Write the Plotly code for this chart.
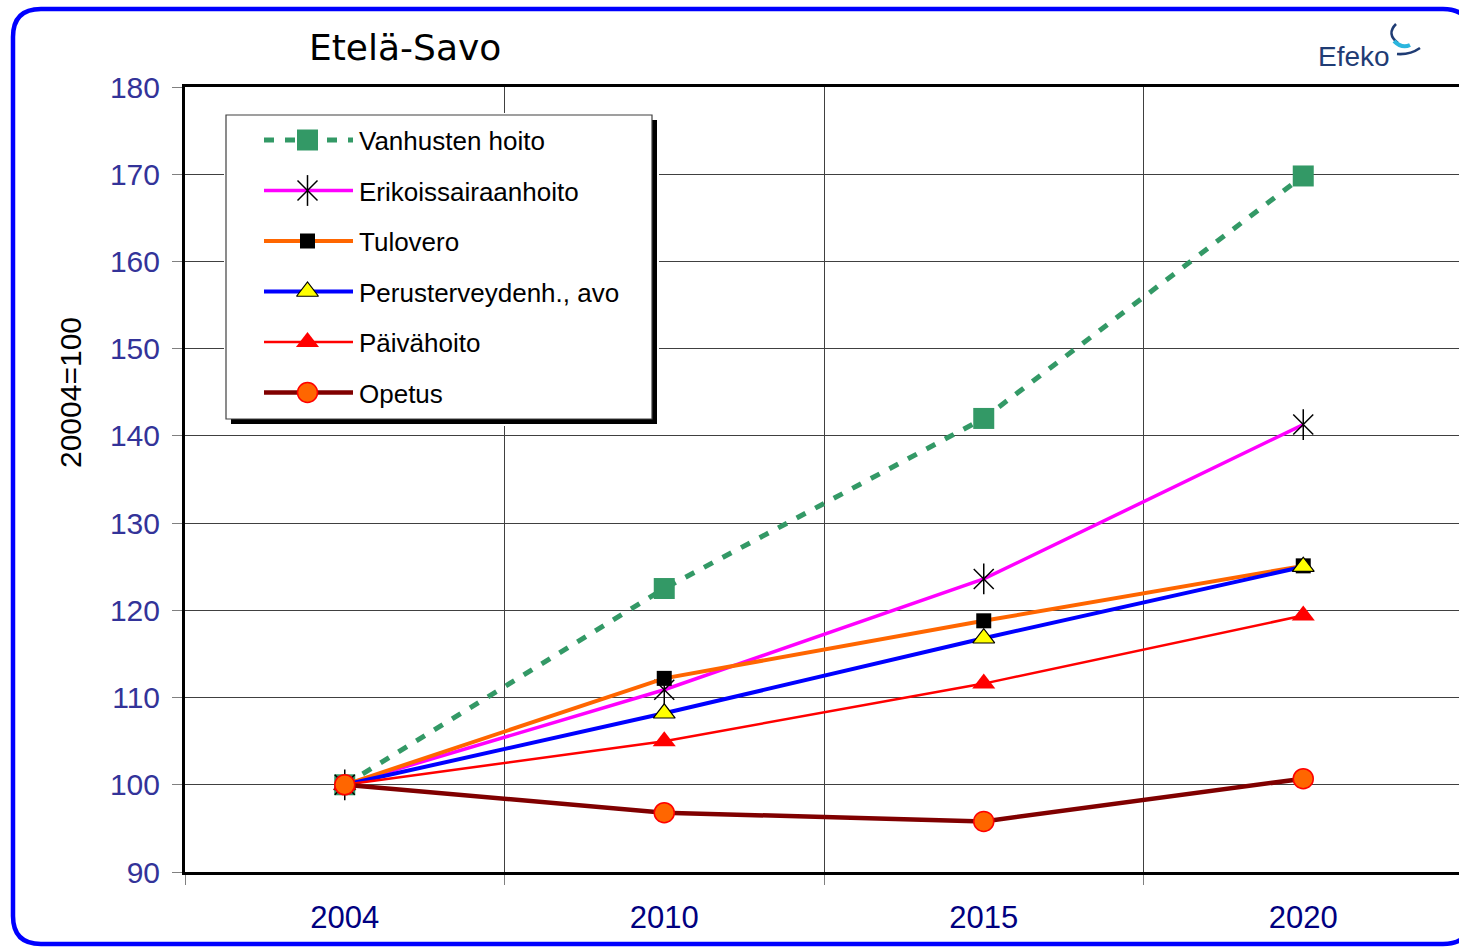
import plotly.graph_objects as go

# ---------------- data ----------------
years = ["2004", "2010", "2015", "2020"]
vanhusten_hoito = [100, 122.5, 142.0, 169.8]
erikoissairaanhoito = [100, 110.9, 123.6, 141.3]
tulovero = [100, 112.2, 118.8, 125.1]
perusterveydenh_avo = [100, 108.2, 116.8, 125.0]
paivahoito = [100, 105.0, 111.6, 119.4]
opetus = [100, 96.8, 95.8, 100.7]
y_ticks = [90, 100, 110, 120, 130, 140, 150, 160, 170, 180]

# ---------------- geometry helpers (pixel -> paper) ----------------
W, H = 1459, 947
L, R, T, B = 185, 0, 87, 75
PW, PH = W - L - R, H - T - B


def px(x):
    return (x - L) / PW


def py(y):
    return (H - B - y) / PH


FONT = "Liberation Sans, Arial, sans-serif"

series = [
    dict(name="Vanhusten hoito", y=vanhusten_hoito,
         line=dict(color="#339966", width=5, dash="10px,11px"),
         marker=dict(symbol="square", size=21, color="#339966",
                     line=dict(color="#339966", width=0))),
    dict(name="Erikoissairaanhoito", y=erikoissairaanhoito,
         line=dict(color="#FF00FF", width=3.5),
         marker=dict(symbol="x-thin-open", size=20, color="black",
                     line=dict(color="black", width=1.5)),
         extra=dict(symbol="line-ns-open", size=22, color="black",
                    line=dict(color="black", width=1.5))),
    dict(name="Tulovero", y=tulovero,
         line=dict(color="#FF6600", width=4),
         marker=dict(symbol="square", size=15, color="black",
                     line=dict(color="black", width=0))),
    dict(name="Perusterveydenh., avo", y=perusterveydenh_avo,
         line=dict(color="#0000FF", width=4),
         marker=dict(symbol="triangle-up", size=19, color="#FFFF00",
                     line=dict(color="black", width=1.2))),
    dict(name="Päivähoito", y=paivahoito,
         line=dict(color="#FF0000", width=2.5),
         marker=dict(symbol="triangle-up", size=20, color="#FF0000",
                     line=dict(color="#FF0000", width=0))),
    dict(name="Opetus", y=opetus,
         line=dict(color="#800000", width=4.5),
         marker=dict(symbol="circle", size=20, color="#FF6600",
                     line=dict(color="#FF0000", width=1.5))),
]

fig = go.Figure()

# main series
for s in series:
    fig.add_trace(go.Scatter(
        x=years, y=s["y"], name=s["name"], mode="lines+markers",
        line=s["line"], marker=s["marker"], showlegend=False,
        xaxis="x", yaxis="y"))
    if "extra" in s:
        fig.add_trace(go.Scatter(
            x=years, y=s["y"], name=s["name"], mode="markers",
            marker=s["extra"], showlegend=False, xaxis="x", yaxis="y"))

# ---------------- custom legend on an overlay subplot ----------------
LEG_L, LEG_R, LEG_T, LEG_B = 226, 652, 115, 419
SH = 5  # shadow offset
ROW0, ROW_STEP = 140, 50.5
annotations = []
shapes = []

shapes.append(dict(type="rect", xref="x2", yref="y2", layer="below",
                   x0=LEG_L + SH, x1=LEG_R + SH, y0=LEG_T + SH, y1=LEG_B + SH,
                   fillcolor="black", line=dict(width=0)))
shapes.append(dict(type="rect", xref="x2", yref="y2", layer="below",
                   x0=LEG_L, x1=LEG_R, y0=LEG_T, y1=LEG_B,
                   fillcolor="white", line=dict(color="#404040", width=1.2)))

for i, s in enumerate(series):
    row = ROW0 + ROW_STEP * i
    fig.add_trace(go.Scatter(
        x=[264, 353], y=[row, row], mode="lines", line=s["line"],
        showlegend=False, hoverinfo="skip", xaxis="x2", yaxis="y2"))
    fig.add_trace(go.Scatter(
        x=[307.5], y=[row], mode="markers", marker=s["marker"],
        showlegend=False, hoverinfo="skip", xaxis="x2", yaxis="y2"))
    if "extra" in s:
        fig.add_trace(go.Scatter(
            x=[307.5], y=[row], mode="markers", marker=s["extra"],
            showlegend=False, hoverinfo="skip", xaxis="x2", yaxis="y2"))
    annotations.append(dict(
        text=s["name"], x=357, y=row + 1, xref="x2", yref="y2",
        xanchor="left", yanchor="middle", showarrow=False,
        font=dict(family=FONT, size=26, color="black")))

# ---------------- title, axis title, logo, frame ----------------
annotations.append(dict(
    text="Etelä-Savo", x=px(405), y=py(47), xref="paper", yref="paper",
    xanchor="center", yanchor="middle", showarrow=False,
    font=dict(family="DejaVu Sans, sans-serif", size=36, color="black")))
annotations.append(dict(
    text="20004=100", x=px(70), y=py(393), xref="paper", yref="paper",
    xanchor="center", yanchor="middle", showarrow=False, textangle=-90,
    font=dict(family=FONT, size=30, color="black")))
annotations.append(dict(
    text="Efeko", x=px(1354), y=py(56), xref="paper", yref="paper",
    xanchor="center", yanchor="middle", showarrow=False,
    font=dict(family=FONT, size=28, color="#1F3C74")))


def path_px(points_cmds):
    out = []
    for cmd, pts in points_cmds:
        coords = " ".join(f"{px(x):.5f},{py(y):.5f}" for x, y in pts)
        out.append(f"{cmd}{coords}")
    return " ".join(out)


# logo swoosh
shapes.append(dict(type="path", xref="paper", yref="paper", layer="above",
                   path=path_px([("M", [(1396, 24)]), ("Q", [(1386, 34), (1398, 43)])]),
                   line=dict(color="#1F3C74", width=2.5)))
shapes.append(dict(type="path", xref="paper", yref="paper", layer="above",
                   path=path_px([("M", [(1394, 41)]), ("Q", [(1402, 49), (1410, 45)])]),
                   line=dict(color="#2BB6DE", width=4)))
shapes.append(dict(type="path", xref="paper", yref="paper", layer="above",
                   path=path_px([("M", [(1397, 54)]), ("Q", [(1410, 55), (1420, 48)])]),
                   line=dict(color="#1F3C74", width=2.5)))

# blue rounded frame
X0, X1, Y0, Y1, RAD = 13, 1471, 9, 944, 28
frame = path_px([
    ("M", [(X0 + RAD, Y0)]), ("L", [(X1 - RAD, Y0)]),
    ("Q", [(X1, Y0), (X1, Y0 + RAD)]), ("L", [(X1, Y1 - RAD)]),
    ("Q", [(X1, Y1), (X1 - RAD, Y1)]), ("L", [(X0 + RAD, Y1)]),
    ("Q", [(X0, Y1), (X0, Y1 - RAD)]), ("L", [(X0, Y0 + RAD)]),
    ("Q", [(X0, Y0), (X0 + RAD, Y0)]),
]) + " Z"
shapes.append(dict(type="path", xref="paper", yref="paper", layer="above",
                   path=frame, line=dict(color="#0000FF", width=4.5)))

fig.update_layout(
    width=W, height=H,
    margin=dict(l=L, r=R, t=T, b=B, autoexpand=False),
    paper_bgcolor="white", plot_bgcolor="white",
    showlegend=False,
    annotations=annotations, shapes=shapes,
    xaxis=dict(
        type="category", categoryorder="array", categoryarray=years,
        range=[-0.5, -0.5 + PW / 319.5],
        tickson="boundaries", ticks="outside", ticklen=10, tickwidth=1,
        tickcolor="#808080", showgrid=True, gridcolor="#404040", gridwidth=1,
        showline=True, linecolor="black", linewidth=3, mirror=True,
        tickfont=dict(family=FONT, size=31, color="#000080"),
        ticklabelstandoff=16, zeroline=False, fixedrange=True),
    yaxis=dict(
        range=[90, 180], tickvals=y_ticks, ticks="outside", ticklen=10,
        tickwidth=1, tickcolor="#808080", showgrid=True, gridcolor="#404040",
        gridwidth=1, showline=True, linecolor="black", linewidth=3,
        tickfont=dict(family=FONT, size=30, color="#333399"),
        ticklabelstandoff=6, zeroline=False, fixedrange=True),
    # legend panel subplot (slightly larger than the box so the shadow shows)
    xaxis2=dict(domain=[px(LEG_L - 2), px(LEG_R + SH + 2)],
                range=[LEG_L - 2, LEG_R + SH + 2],
                visible=False, anchor="y2", fixedrange=True),
    yaxis2=dict(domain=[py(LEG_B + SH + 2), py(LEG_T - 2)],
                range=[LEG_B + SH + 2, LEG_T - 2],
                visible=False, anchor="x2", fixedrange=True),
)

fig.write_html("out.html",
               config={"displayModeBar": False},
               post_script="document.body.style.margin='0';"
                           "document.body.style.overflow='hidden';")
